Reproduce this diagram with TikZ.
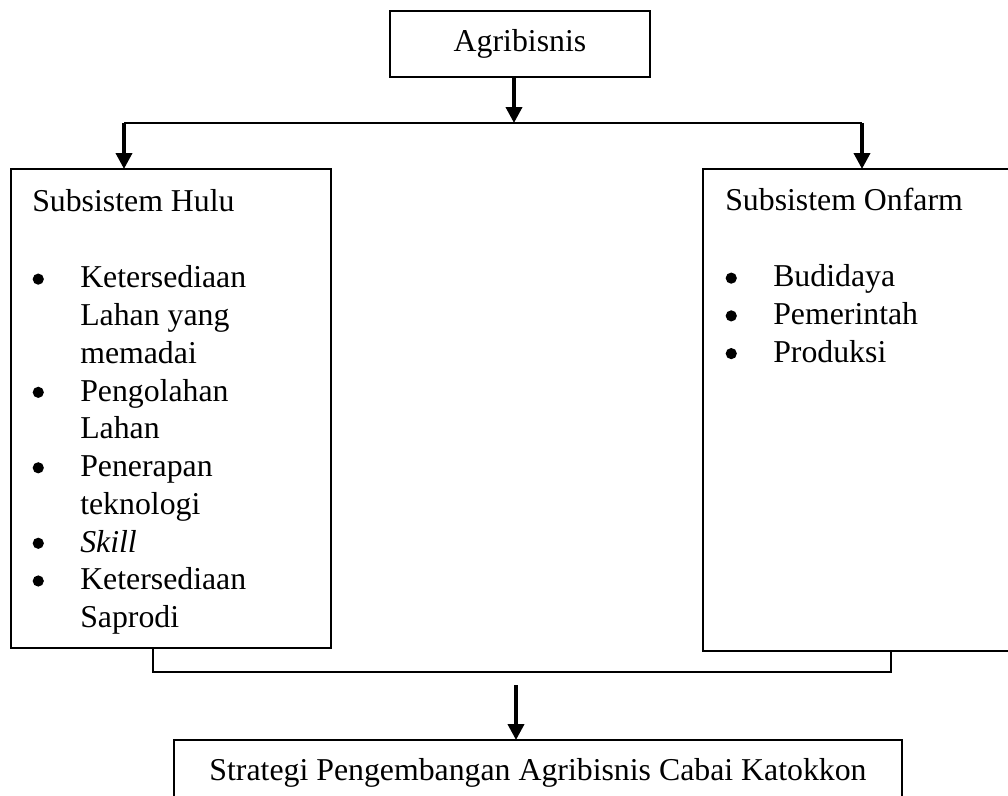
\documentclass[tikz,border=0pt]{standalone}
\usepackage{fontspec}
\setmainfont{Liberation Serif}
\usetikzlibrary{arrows.meta}
\newcommand\blt{\tikz[x=1pt,y=1pt,baseline=0pt]{\path (0,0) rectangle (9,1);\fill (4.5,6.6) circle (4.2pt);}}
\begin{document}
\begin{tikzpicture}[x=0.75pt,y=-0.75pt,
  box/.style={draw, line width=1.7pt, rectangle, inner sep=0pt, outer sep=0pt,
    font=\fontsize{23.85}{28.3}\selectfont},
  link/.style={line width=1.7pt},
  arr/.style={line width=2.8pt, -{Triangle[length=12pt,width=12pt]}},
  txt/.style={font=\fontsize{23.85}{28.3}\selectfont, inner sep=0pt, anchor=base west}]
\useasboundingbox (0,0) rectangle (1008,796);
\clip (0,0) rectangle (1008,796);
% boxes
\node[box, minimum width=195pt, minimum height=49.5pt] (agri) at (520,44) {Agribisnis};
\node[box, minimum width=240pt, minimum height=359.25pt] (hulu) at (171,408.5) {};
\node[box, minimum width=237.75pt, minimum height=361.5pt] (onfarm) at (861.5,410) {};
\node[box, minimum width=546pt, minimum height=49pt] (strat) at (538,772.7)
  {Strategi Pengembangan Agribisnis Cabai Katokkon};
% box texts
\node[txt] (huluText) at (32,211) {\begin{tabular}[t]{@{}p{36pt}@{}l@{}}
\multicolumn{2}{@{}l@{}}{Subsistem Hulu}\\[29.4pt]
\blt & Ketersediaan\\
 & Lahan yang\\
 & memadai\\
\blt & Pengolahan\\
 & Lahan\\
\blt & Penerapan\\
 & teknologi\\
\blt & \textit{Skill}\\
\blt & Ketersediaan\\
 & Saprodi
\end{tabular}};
\node[txt] (onfarmText) at (725,210) {\begin{tabular}[t]{@{}p{36pt}@{}l@{}}
\multicolumn{2}{@{}l@{}}{Subsistem Onfarm}\\[29.4pt]
\blt & Budidaya\\
\blt & Pemerintah\\
\blt & Produksi
\end{tabular}};
% connector points
\coordinate (hub) at (514,123);
\coordinate (hl) at (124,123);
\coordinate (hr) at (862,123);
\coordinate (bl) at (153,672);
\coordinate (br) at (891,672);
\coordinate (bt) at (516,685);
% connectors
\draw[arr] (hub |- agri.south) -- (hub);
\draw[link] (hl) -- (hr);
\draw[arr] (hl) -- (hl |- hulu.north);
\draw[arr] (hr) -- (hr |- onfarm.north);
\draw[link] (bl |- hulu.south) -- (bl) -- (br) -- (br |- onfarm.south);
\draw[arr] (bt) -- (bt |- strat.north);
\end{tikzpicture}
\end{document}
